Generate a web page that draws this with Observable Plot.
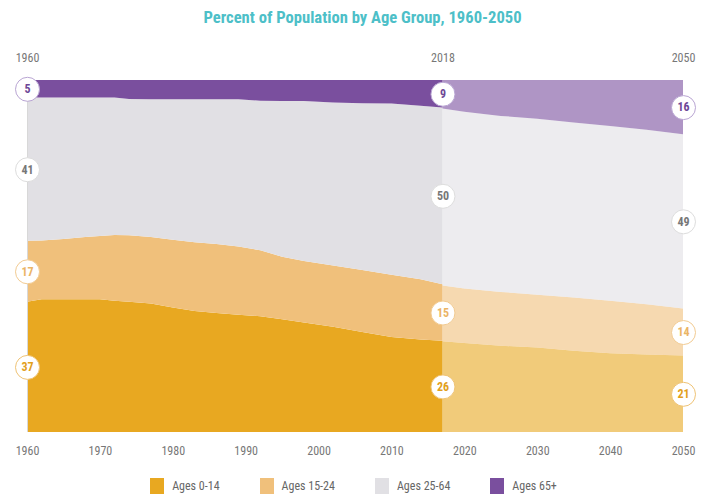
<!DOCTYPE html>
<html>
<head>
<meta charset="utf-8">
<script src="https://cdn.jsdelivr.net/npm/d3@7"></script>
<script src="https://cdn.jsdelivr.net/npm/@observablehq/plot@0.6"></script>
<style>
  body { margin: 0; background: #fff; font-family: "Roboto Condensed", "Liberation Sans Narrow", "DejaVu Sans Condensed", Roboto, sans-serif; }
  #wrap { width: 707px; }
  #title { height: 36px; line-height: 36px; text-align: center; color: #4DBFC8; font-weight: bold; font-size: 16.6px; padding-left: 18px; }
  #legend { display: flex; justify-content: center; align-items: center; gap: 40px; margin-top: 12px; font-size: 12px; color: #666; }
  .item { display: flex; align-items: center; }
  .sw { width: 14px; height: 16px; margin-right: 8px; }
</style>
</head>
<body>
<div id="wrap">
  <div id="title">Percent of Population by Age Group, 1960-2050</div>
  <div id="chart"></div>
  <div id="legend"></div>
</div>
<script>
const groups = ["Ages 0-14", "Ages 15-24", "Ages 25-64", "Ages 65+"];
const colors = ["#E8A821", "#F0C07B", "#E1E0E4", "#7A4F9E"];
const textColors = ["#E2A01C", "#EBB466", "#777777", "#6E4896"];
const ringColors = ["#EFC375", "#F2CB92", "#DDDDDD", "#B9A5D3"];

// Historical (estimated) values, percent
const histYears = [1960,1962,1965,1968,1970,1972,1974,1977,1980,1983,1986,1989,1992,1995,1998,2002,2006,2010,2014,2017];
const hist0_14  = [37.0,37.7,37.7,37.7,37.7,37.3,37.0,36.5,35.4,34.4,33.8,33.3,32.9,32.0,31.1,29.9,28.4,27.0,26.3,25.9];
const hist15_24 = [17.3,16.7,17.1,17.7,18.0,18.7,18.9,18.9,19.2,19.5,19.6,19.4,18.7,17.8,17.5,17.4,17.6,17.7,17.1,16.1];
const hist25_64 = [40.7,40.6,40.2,39.6,39.3,39.0,38.7,39.1,39.9,40.6,41.1,41.8,42.5,44.2,45.4,46.3,47.4,48.6,49.3,50.2];
const hist65    = [5.0,5.0,5.0,5.0,5.0,5.0,5.4,5.5,5.5,5.5,5.5,5.5,5.9,6.0,6.0,6.4,6.6,6.7,7.3,7.8];

// Projected values, percent
const projYears = [2017,2020,2025,2030,2035,2040,2045,2050];
const proj0_14  = [25.8,25.3,24.5,24.0,23.1,22.4,22.0,21.7];
const proj15_24 = [15.8,15.5,15.3,15.0,15.1,14.9,14.3,13.4];
const proj25_64 = [50.3,50.2,50.0,50.0,49.7,49.6,49.6,49.5];
const proj65    = [8.1,9.0,10.2,11.0,12.1,13.1,14.1,15.4];

// Marker labels
const markerYears = [1960, 2017, 2050];
const markerLabels = ["1960", "2018", "2050"];
const labels1960 = [37, 17, 41, 5];
const labels2018 = [26, 15, 50, 9];
const labels2050 = [21, 14, 49, 16];

const xTicks = [1960,1970,1980,1990,2000,2010,2020,2030,2040,2050];

const histSeries = [hist0_14, hist15_24, hist25_64, hist65];
const projSeries = [proj0_14, proj15_24, proj25_64, proj65];

const hist = histYears.flatMap((yr, i) => groups.map((g, k) => ({year: yr, group: g, value: histSeries[k][i]})));
const proj = projYears.flatMap((yr, i) => groups.map((g, k) => ({year: yr, group: g, value: projSeries[k][i]})));

function markerRows(year, series, years, labels) {
  const i = years.indexOf(year);
  let base = 0;
  return groups.map((g, k) => {
    const v = series[k][i];
    const row = {year, k, mid: base + v / 2, label: labels[k]};
    base += v;
    return row;
  });
}
const markers = [
  ...markerRows(1960, histSeries, histYears, labels1960),
  ...markerRows(2017, histSeries, histYears, labels2018),
  ...markerRows(2050, projSeries, projYears, labels2050)
];

const font = '"Roboto Condensed", "Liberation Sans Narrow", "DejaVu Sans Condensed", Roboto, sans-serif';

const chart = Plot.plot({
  width: 707,
  height: 430,
  marginTop: 44,
  marginBottom: 34,
  marginLeft: 27,
  marginRight: 24,
  style: {fontFamily: font, fontSize: "12px", color: "#777", background: "white"},
  x: {domain: [1960, 2050], ticks: xTicks, tickFormat: d => String(d), tickSize: 0, tickPadding: 14, label: null},
  y: {domain: [0, 100], axis: null},
  color: {domain: groups, range: colors},
  marks: [
    Plot.areaY(hist, {x: "year", y: "value", fill: "group", order: groups}),
    Plot.areaY(proj, {x: "year", y: "value", fill: "group", order: groups, fillOpacity: 0.6}),
    Plot.ruleX([1960], {stroke: "#d8d8d8"}),
    Plot.text(markerYears.map((y, i) => ({year: y, label: markerLabels[i]})),
      {x: "year", frameAnchor: "top", dy: -27, text: "label", fill: "#777", fontSize: 12}),
    ...groups.map((g, k) => Plot.dot(markers.filter(d => d.k === k),
      {x: "year", y: "mid", r: 12, fill: "white", stroke: ringColors[k], strokeWidth: 1})),
    ...groups.map((g, k) => Plot.text(markers.filter(d => d.k === k),
      {x: "year", y: "mid", text: "label", fill: textColors[k], fontWeight: "bold", fontSize: 12}))
  ]
});
document.getElementById("chart").appendChild(chart);

const legend = document.getElementById("legend");
groups.forEach((g, k) => {
  const item = document.createElement("div");
  item.className = "item";
  const sw = document.createElement("div");
  sw.className = "sw";
  sw.style.background = colors[k];
  const t = document.createElement("span");
  t.textContent = g;
  item.appendChild(sw);
  item.appendChild(t);
  legend.appendChild(item);
});
</script>
</body>
</html>
